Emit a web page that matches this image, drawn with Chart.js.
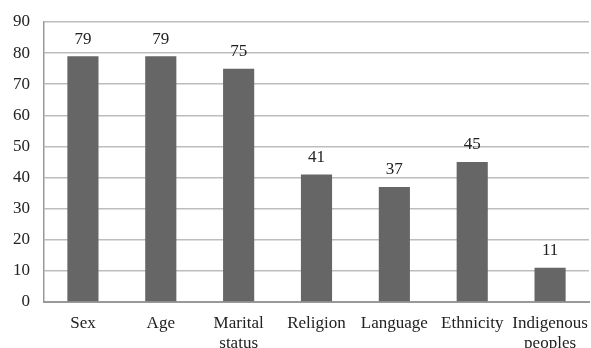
<!DOCTYPE html>
<html>
<head>
<meta charset="utf-8">
<script src="https://cdn.jsdelivr.net/npm/chart.js@4/dist/chart.umd.min.js"></script>
<style>
  html, body { margin: 0; padding: 0; overflow: hidden; background: #fff; }
  #wrap { width: 591px; height: 360px; }
</style>
</head>
<body>
<div id="wrap"><canvas id="barChart" width="591" height="360"></canvas></div>
<script>
// Kategorien und Werte
const categories = ['Sex', 'Age', ['Marital', 'status'], 'Religion', 'Language', 'Ethnicity', ['Indigenous', 'peoples']];
const values = [79, 79, 75, 41, 37, 45, 11];
const yTicks = [0, 10, 20, 30, 40, 50, 60, 70, 80, 90];

const fontFamily = '"Liberation Serif", "Times New Roman", serif';

// Werte über den Balken zeichnen
const valueLabels = {
    id: 'valueLabels',
    afterDatasetsDraw(chart) {
        const ctx = chart.ctx;
        const meta = chart.getDatasetMeta(0);
        ctx.save();
        ctx.font = '17px ' + fontFamily;
        ctx.fillStyle = '#222';
        ctx.textAlign = 'center';
        ctx.textBaseline = 'middle';
        meta.data.forEach((bar, i) => {
            ctx.fillText(String(values[i]), bar.x, bar.y - 17);
        });
        ctx.restore();
    }
};

const ctx = document.getElementById('barChart').getContext('2d');
new Chart(ctx, {
    type: 'bar',
    data: {
        labels: categories,
        datasets: [{
            data: values,
            backgroundColor: '#666666',
            borderWidth: 0,
            barPercentage: 0.4,
            categoryPercentage: 1.0
        }]
    },
    options: {
        responsive: false,
        animation: false,
        layout: { padding: { top: 22, right: 2, left: 0, bottom: 0 } },
        plugins: {
            legend: { display: false },
            tooltip: { enabled: false }
        },
        scales: {
            x: {
                grid: { display: false, drawTicks: false },
                border: { color: '#999', width: 2 },
                ticks: {
                    color: '#222',
                    font: { family: fontFamily, size: 17, lineHeight: 1.2 },
                    padding: 11,
                    maxRotation: 0,
                    autoSkip: false
                },
                afterFit(scale) {
                    scale.height = 58;
                    // Beschriftungen dürfen über den Rand hinausragen
                    scale.paddingLeft = 0;
                    scale.paddingRight = 0;
                }
            },
            y: {
                min: 0,
                max: 90,
                afterBuildTicks(scale) { scale.ticks = yTicks.map(v => ({ value: v })); },
                grid: { color: '#bdbdbd', lineWidth: 1.5, drawTicks: false },
                border: { color: '#999', width: 1.5 },
                ticks: {
                    color: '#222',
                    font: { family: fontFamily, size: 17 },
                    padding: 14
                },
                afterFit(scale) {
                    scale.width = 44;
                    scale.paddingTop = 0;
                    scale.paddingBottom = 0;
                }
            }
        }
    },
    plugins: [valueLabels]
});
</script>
</body>
</html>
